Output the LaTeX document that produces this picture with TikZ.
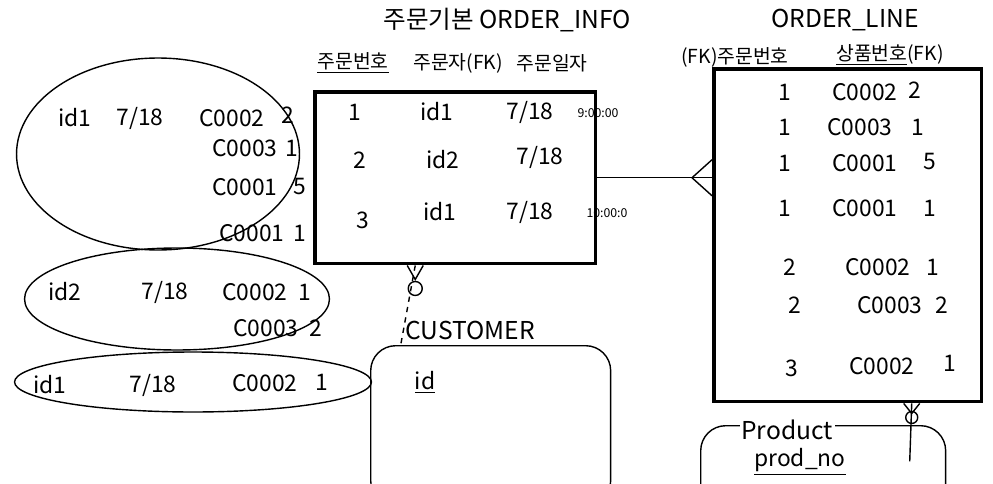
\documentclass[tikz,border=0pt]{standalone}
\usepackage{fontspec}
\setmainfont{Noto Sans CJK KR}
\usetikzlibrary{positioning,shapes.geometric,calc}

\begin{document}
\begin{tikzpicture}[
  x=0.02cm, y=-0.02cm,
  tbl/.style={draw, line width=2pt, anchor=north west, inner sep=0pt},
  ent/.style={draw, line width=0.8pt, anchor=north west, rounded corners=0.5cm, inner sep=0pt},
  grp/.style={draw, ellipse, line width=0.8pt, inner sep=0pt},
  cell/.style={font=\fontsize{13}{15}\selectfont, inner sep=1pt},
  tiny/.style={font=\fontsize{7}{8}\selectfont, inner sep=1pt},
  hdr/.style={font=\fontsize{11}{13}\selectfont, inner sep=1pt},
  ttl/.style={font=\fontsize{14}{16}\selectfont, inner sep=1pt},
  line width=0.8pt
]
\useasboundingbox (0,0) rectangle (993,483);

% tables
\node[tbl, minimum width=5.62cm, minimum height=3.44cm] (info) at (313,90) {};
\node[tbl, minimum width=5.36cm, minimum height=6.66cm] (line) at (712,67) {};
\node[ent, minimum width=4.8cm, minimum height=3.2cm] (cust) at (370,345) {};
\node[ent, minimum width=4.9cm, minimum height=1.9cm] (prod) at (700,425) {};

% ORDER_INFO
\node[ttl] (infottl) at (507,20) {주문기본 ORDER\_INFO};
\node[hdr] (h1) at (353,63) {\underline{주문번호}};
\node[hdr] (h2) at (458,63) {주문자(FK)};
\node[hdr] (h3) at (552,63) {주문일자};
\node[cell] (i1a) at (355,112) {1};
\node[cell] (i1b) at (437,112) {id1};
\node[cell] (i1c) at (530,112) {7/18};
\node[tiny] (i1d) at (598,113) {9:00:00};
\node[cell] (i2a) at (360,160) {2};
\node[cell] (i2b) at (443,160) {id2};
\node[cell] (i2c) at (540,157) {7/18};
\node[cell] (i3a) at (363,220) {3};
\node[cell] (i3b) at (440,212) {id1};
\node[cell] (i3c) at (530,212) {7/18};
\node[tiny] (i3d) at (607,213) {10:00:0};

% ORDER_LINE
\node[ttl] (linettl) at (845,20) {ORDER\_LINE};
\node[hdr] (h4) at (735,58) {(FK)\underline{주문번호}};
\node[hdr] (h5) at (890,55) {\underline{상품번호}(FK)};
\node[cell] (l1a) at (785,92) {1};  \node[cell] (l1b) at (865,92) {C0002};  \node[cell] (l1c) at (915,90) {2};
\node[cell] (l2a) at (785,127) {1}; \node[cell] (l2b) at (860,127) {C0003}; \node[cell] (l2c) at (918,127) {1};
\node[cell] (l3a) at (785,163) {1}; \node[cell] (l3b) at (865,163) {C0001}; \node[cell] (l3c) at (930,162) {5};
\node[cell] (l4a) at (785,208) {1}; \node[cell] (l4b) at (865,208) {C0001}; \node[cell] (l4c) at (930,208) {1};
\node[cell] (l5a) at (790,267) {2}; \node[cell] (l5b) at (878,267) {C0002}; \node[cell] (l5c) at (933,267) {1};
\node[cell] (l6a) at (795,305) {2}; \node[cell] (l6b) at (890,305) {C0003}; \node[cell] (l6c) at (942,305) {2};
\node[cell] (l7a) at (792,368) {3}; \node[cell] (l7b) at (882,366) {C0002}; \node[cell] (l7c) at (950,363) {1};

% CUSTOMER, Product
\node[ttl, fill=white] (custttl) at (470,330) {CUSTOMER};
\node[cell] (custid) at (425,382) {\underline{id}};
\node[ttl, fill=white] (prodttl) at (787,430) {Product};
\node[cell] (prodno) at (800,462) {\underline{prod\_no}};

% groups
\node[grp, minimum width=5.66cm, minimum height=3.84cm] (g1) at (158,154) {};
\node[grp, minimum width=6.1cm, minimum height=2.04cm] (g2) at (177,299) {};
\node[grp, minimum width=7.14cm, minimum height=1.2cm] (g3) at (193,382) {};
\node[cell] (g1a) at (75,118) {id1};  \node[cell] (g1b) at (140,118) {7/18}; \node[cell] (g1c) at (232,118) {C0002}; \node[cell] (g1d) at (288,115) {2};
\node[cell] (g1e) at (245,148) {C0003}; \node[cell] (g1f) at (292,148) {1};
\node[cell] (g1g) at (245,187) {C0001}; \node[cell] (g1h) at (300,187) {5};
\node[cell] (g1i) at (252,233) {C0001}; \node[cell] (g1j) at (300,233) {1};
\node[cell] (g2a) at (65,292) {id2};  \node[cell] (g2b) at (165,292) {7/18}; \node[cell] (g2c) at (255,292) {C0002}; \node[cell] (g2d) at (305,292) {1};
\node[cell] (g2e) at (266,328) {C0003}; \node[cell] (g2f) at (316,328) {2};
\node[cell] (g3a) at (50,385) {id1};  \node[cell] (g3b) at (153,385) {7/18}; \node[cell] (g3c) at (265,383) {C0002}; \node[cell] (g3d) at (322,382) {1};

% relations
\draw (info.east) -- (info.east -| line.west) coordinate (lw);
\draw (lw) ++(0,-18) -- ++(-20,18) -- ++(20,18);
\draw[dashed] ([xshift=-0.8cm]info.south) coordinate (ic) -- ([xshift=-1.8cm]cust.north);
\draw (ic) ++(-8,0) -- ++(8,14) -- ++(8,-14);
\draw (ic) ++(0,23) circle[radius=7];
\draw ([xshift=1.28cm]line.south) coordinate (lp) -- ++(-2,58);
\draw (lp) ++(-8,0) -- ++(8,10) -- ++(8,-10);
\draw (lp) ++(0,14) circle[radius=6];
\end{tikzpicture}
\end{document}
